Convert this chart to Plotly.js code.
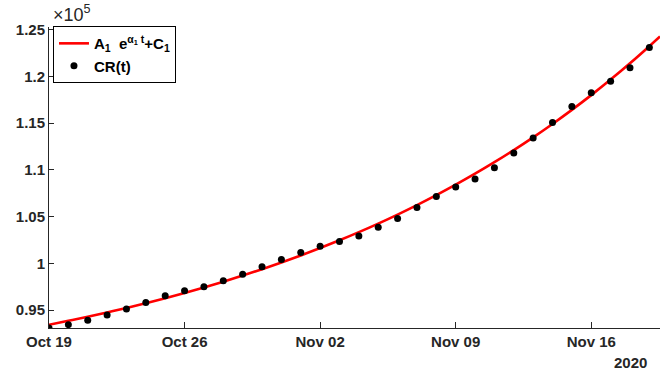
<!DOCTYPE html>
<html>
<head>
<meta charset="utf-8">
<script src="https://cdn.plot.ly/plotly-3.0.1.min.js"></script>
<style>html,body{margin:0;padding:0;background:#fff;}#chart{width:661px;height:375px;}</style>
</head>
<body>
<div id="chart"></div>
<script>
// Observed data CR(t), daily from Oct 19 to Nov 19 2020
const pointDates = ["2020-10-19","2020-10-20","2020-10-21","2020-10-22","2020-10-23","2020-10-24","2020-10-25","2020-10-26","2020-10-27","2020-10-28","2020-10-29","2020-10-30","2020-10-31","2020-11-01","2020-11-02","2020-11-03","2020-11-04","2020-11-05","2020-11-06","2020-11-07","2020-11-08","2020-11-09","2020-11-10","2020-11-11","2020-11-12","2020-11-13","2020-11-14","2020-11-15","2020-11-16","2020-11-17","2020-11-18","2020-11-19"];
const crValues = [93110,93460,93920,94500,95140,95820,96540,97070,97500,98140,98850,99640,100430,101180,101840,102340,102930,103860,104820,105970,107150,108180,109040,110220,111820,113400,115080,116790,118250,119470,120930,123100];

// Fitted curve A1 e^(a1 t)+C1
const fitDates = ["2020-10-19","2020-10-20","2020-10-21","2020-10-22","2020-10-23","2020-10-24","2020-10-25","2020-10-26","2020-10-27","2020-10-28","2020-10-29","2020-10-30","2020-10-31","2020-11-01","2020-11-02","2020-11-03","2020-11-04","2020-11-05","2020-11-06","2020-11-07","2020-11-08","2020-11-09","2020-11-10","2020-11-11","2020-11-12","2020-11-13","2020-11-14","2020-11-15","2020-11-16","2020-11-17","2020-11-18","2020-11-19","2020-11-19 13:12"];
const fitValues = [93450,93866,94304,94763,95246,95753,96286,96846,97434,98052,98702,99384,100100,100853,101644,102475,103348,104265,105229,106241,107304,108422,109595,110829,112124,113486,114916,116418,117996,119655,121397,123227,124265];

const xTickVals = ["2020-10-19","2020-10-26","2020-11-02","2020-11-09","2020-11-16"];
const xTickText = ["Oct 19","Oct 26","Nov 02","Nov 09","Nov 16"];
const yTickVals = [95000,100000,105000,110000,115000,120000,125000];
const yTickText = ["0.95","1","1.05","1.1","1.15","1.2","1.25"];
const xRange = ["2020-10-19","2020-11-19 13:12"];
const yRange = [93100,125280];

const FONT = "Liberation Sans, Arial, Helvetica, sans-serif";
const AX = "#262626";

const traces = [
  {x: fitDates, y: fitValues, type: "scatter", mode: "lines", line: {color: "#ff0000", width: 2.6, shape: "spline"},
   name: "<b>A<sub>1</sub>  e<sup>α<sub>1</sub> t</sup>+C<sub>1</sub></b>"},
  {x: pointDates, y: crValues, type: "scatter", mode: "markers", marker: {color: "#000000", size: 7},
   name: "<b>CR(t)</b>"}
];

const layout = {
  width: 661, height: 375,
  margin: {l: 49, r: 1, t: 27, b: 47},
  paper_bgcolor: "#fff", plot_bgcolor: "#fff",
  font: {family: FONT, size: 15, color: AX},
  showlegend: true,
  legend: {x: 0.0065, y: 1.003, xanchor: "left", yanchor: "top", bgcolor: "#fff", bordercolor: "#000", borderwidth: 1,
           font: {family: FONT, size: 15, color: "#000"}, itemwidth: 30, tracegroupgap: 0},
  xaxis: {type: "date", range: xRange, tickvals: xTickVals, ticktext: xTickText, showgrid: false, zeroline: false,
          showline: true, linecolor: AX, linewidth: 1, ticks: "inside", ticklen: 6, tickcolor: AX,
          tickfont: {family: FONT, size: 15, color: AX, weight: "bold"}, fixedrange: true},
  xaxis2: {type: "date", range: xRange, tickvals: xTickVals, overlaying: "x", side: "top", showgrid: false, zeroline: false,
           showline: true, linecolor: "#8a8a8a", linewidth: 1.2, ticks: "inside", ticklen: 6, tickcolor: "#8a8a8a",
           showticklabels: false},
  yaxis: {range: yRange, tickvals: yTickVals, ticktext: yTickText, showgrid: false, zeroline: false,
          showline: true, linecolor: AX, linewidth: 1, ticks: "inside", ticklen: 5, tickcolor: AX,
          tickfont: {family: FONT, size: 15, color: AX, weight: "bold"}},
  yaxis2: {range: yRange, tickvals: yTickVals, overlaying: "y", side: "right", showgrid: false, zeroline: false,
           showline: true, linecolor: "#8a8a8a", linewidth: 1, ticks: "inside", ticklen: 5, tickcolor: "#8a8a8a",
           showticklabels: false},
  annotations: [
    {text: "×10<sup>5</sup>", xref: "paper", yref: "paper", x: 0.003, y: 1.0, xanchor: "left", yanchor: "bottom",
     showarrow: false, font: {family: FONT, size: 18, color: AX}},
    {text: "<b>2020</b>", xref: "paper", yref: "paper", x: 0.951, y: -0.115, xanchor: "center", yanchor: "middle",
     showarrow: false, font: {family: FONT, size: 15, color: AX}}
  ]
};

Plotly.newPlot("chart", traces, layout, {displayModeBar: false, staticPlot: true});
</script>
</body>
</html>
